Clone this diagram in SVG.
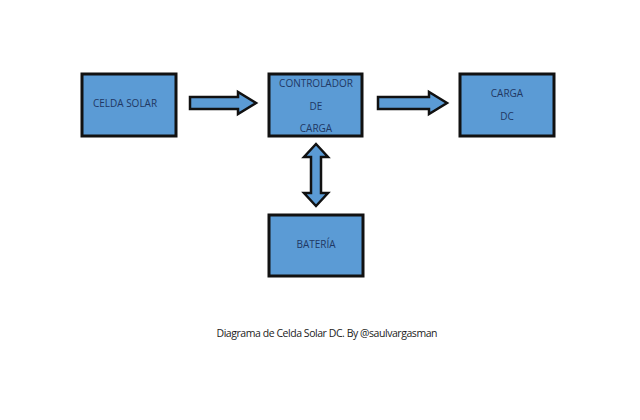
<svg xmlns="http://www.w3.org/2000/svg" width="640" height="420" viewBox="0 0 640 420">
<style>
.box{fill:#5B9BD5;stroke:#111;stroke-width:3}
.arr{fill:#5B9BD5;stroke:#111;stroke-width:2.5;stroke-linejoin:miter}
.lbl{font-family:"Open Sans","Liberation Sans",sans-serif;font-size:10px;fill:#1F3864;text-anchor:middle}
.cap{font-family:"Open Sans","Liberation Sans",sans-serif;font-size:10.5px;fill:#222;text-anchor:middle}
</style>
<rect width="640" height="420" fill="#fff"/>
<g id="connectors">
<polygon class="arr" points="190,97 238,97 238,92 256,103 238,114 238,109 190,109"/>
<polygon class="arr" points="378,97 429,97 429,92 447,103 429,114 429,109 378,109"/>
<polygon class="arr" points="316,144 328,157 321,157 321,193 328,193 316,206 304,193 311,193 311,157 304,157"/>
</g>
<g id="celda-solar">
<rect class="box" x="82" y="74" width="94" height="62"/>
<text class="lbl" x="125" y="107">CELDA SOLAR</text>
</g>
<g id="controlador">
<rect class="box" x="269" y="74" width="93" height="62"/>
<text class="lbl" x="316" y="87">CONTROLADOR</text>
<text class="lbl" x="316" y="110">DE</text>
<text class="lbl" x="316" y="132">CARGA</text>
</g>
<g id="carga-dc">
<rect class="box" x="460" y="74" width="94" height="62"/>
<text class="lbl" x="507" y="97">CARGA</text>
<text class="lbl" x="507" y="120">DC</text>
</g>
<g id="bateria">
<rect class="box" x="269" y="215" width="94" height="61"/>
<text class="lbl" x="316" y="248">BATERÍA</text>
</g>
<text class="cap" x="327" y="337" textLength="221">Diagrama de Celda Solar DC. By @saulvargasman</text>
</svg>
